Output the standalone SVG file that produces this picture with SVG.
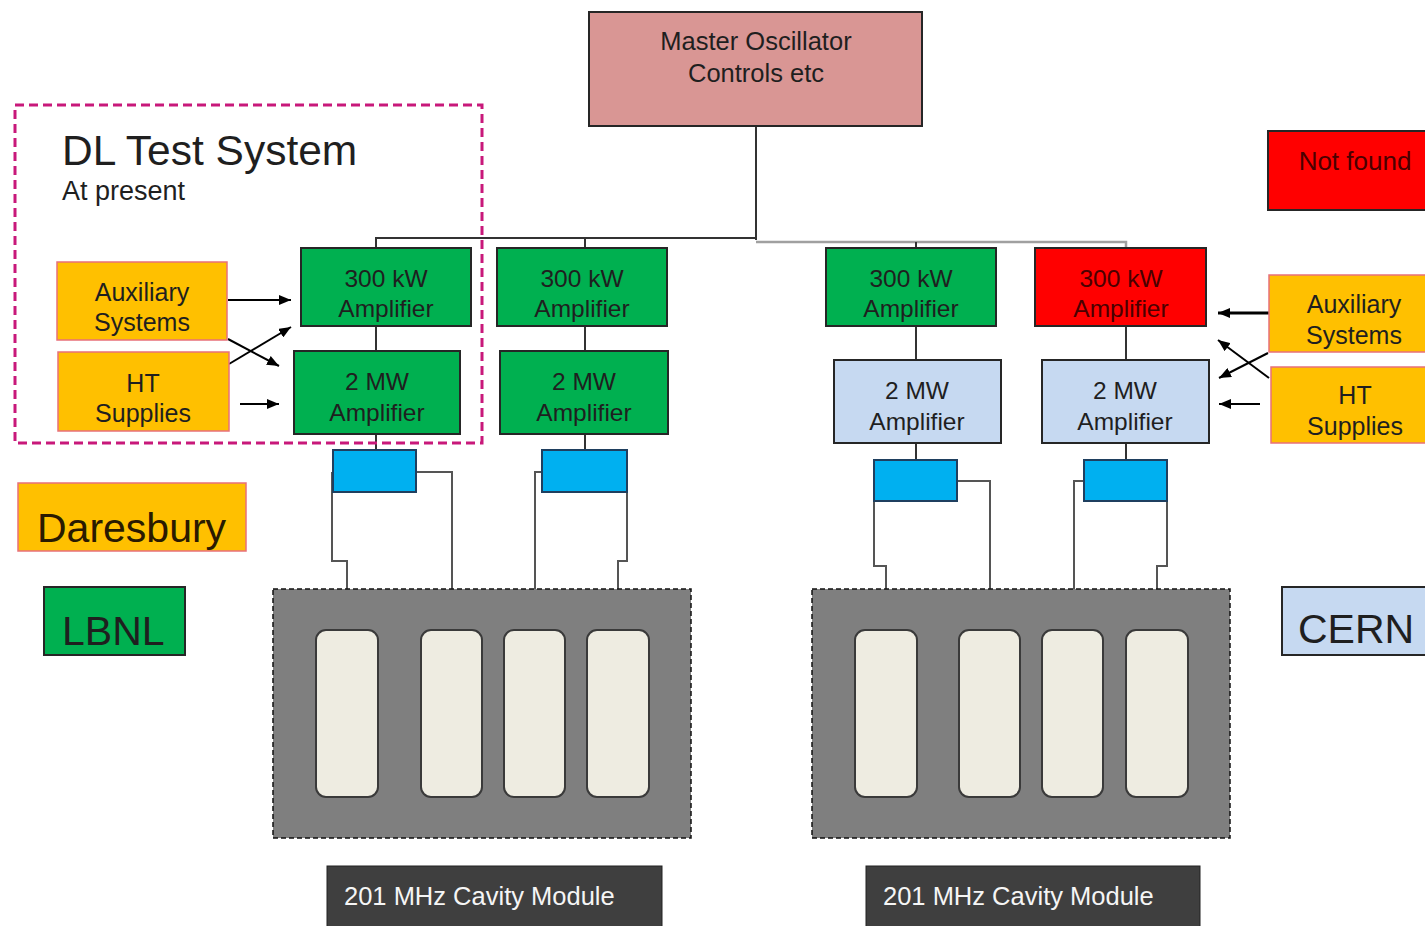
<svg xmlns="http://www.w3.org/2000/svg" width="1425" height="926" viewBox="0 0 1425 926">
<style>
text{font-family:"Liberation Sans",Arial,sans-serif;fill:#1f1f1f;text-anchor:middle}
.box{stroke:#262626;stroke-width:2}
.grn{fill:#00b050}
.red{fill:#ff0000}
.lb{fill:#c6d9f1}
.amb{fill:#ffc000;stroke:#e8707a;stroke-width:1.5}
.cy{fill:#00b0f0;stroke:#1f3f5f;stroke-width:2}
.t24{font-size:24.5px}
.t25{font-size:25px}
.wire{fill:none;stroke:#333;stroke-width:2}
.wire2{fill:none;stroke:#a0a0a0;stroke-width:2.5}
.cable{fill:none;stroke:#555;stroke-width:2}
.arr{stroke:#000;stroke-width:2;marker-end:url(#ah)}
.mod{fill:#7f7f7f;stroke:#111;stroke-width:1.5;stroke-dasharray:5 3}
.cav{fill:#eeece1;stroke:#3a3a3a;stroke-width:2}
.lab{fill:#3f3f3f;stroke:#222;stroke-width:1}
.labt{fill:#f5f5f5;font-size:25.5px;text-anchor:start}
</style>
<defs>
<marker id="ah" viewBox="0 0 12 10" refX="12" refY="5" markerWidth="12" markerHeight="10" markerUnits="userSpaceOnUse" orient="auto">
<path d="M0,0 L12,5 L0,10 z" fill="#000"/>
</marker>
</defs>
<rect width="1425" height="926" fill="#fff"/>

<g id="connectors">
<path class="wire" d="M756,126 V240"/>
<path class="wire" d="M376,248 V238 H756"/>
<path class="wire" d="M585,248 V238"/>
<path class="wire2" d="M756,242 H1126 V248"/>
<path class="wire" d="M916,248 V242"/>
<path class="wire" d="M376,326 V351 M376,434 V450"/>
<path class="wire" d="M585,326 V351 M585,434 V450"/>
<path class="wire" d="M916,326 V360 M916,443 V460"/>
<path class="wire" d="M1126,326 V360 M1126,443 V460"/>
<path class="cable" d="M332,472 V561 H347 V630"/>
<path class="cable" d="M416,472 H452 V630"/>
<path class="cable" d="M542,472 H535 V630"/>
<path class="cable" d="M627,490 V561 H618 V630"/>
<path class="cable" d="M874,480 V566 H886 V630"/>
<path class="cable" d="M957,481 H990 V630"/>
<path class="cable" d="M1084,481 H1074 V630"/>
<path class="cable" d="M1167,490 V566 H1157 V630"/>
<line class="arr" x1="228" y1="300" x2="291" y2="300"/>
<line class="arr" x1="228" y1="339" x2="279" y2="366"/>
<line class="arr" x1="229" y1="364" x2="291" y2="327"/>
<line class="arr" x1="240" y1="404" x2="279" y2="404"/>
<line class="arr" x1="1269" y1="313" x2="1218" y2="313" style="stroke-width:3"/>
<line class="arr" x1="1268" y1="353" x2="1219" y2="378"/>
<line class="arr" x1="1269" y1="378" x2="1218" y2="340"/>
<line class="arr" x1="1260" y1="404" x2="1219" y2="404"/>
</g>

<g id="dl-test-system">
<rect x="15" y="105" width="467" height="338" fill="none" stroke="#c8187a" stroke-width="3" stroke-dasharray="9 5"/>
<text x="62" y="165" style="font-size:42.5px;text-anchor:start">DL Test System</text>
<text x="62" y="200" style="font-size:27px;text-anchor:start">At present</text>
</g>

<g id="master-oscillator">
<rect class="box" x="589" y="12" width="333" height="114" fill="#d99694"/>
<text x="756" y="50" style="font-size:25.5px">Master Oscillator</text>
<text x="756" y="82" style="font-size:25.5px">Controls etc</text>
</g>

<g id="not-found">
<rect class="box" x="1268" y="131" width="160" height="79" fill="#ff0000"/>
<text x="1355" y="170" style="font-size:26px;fill:#4a0000">Not found</text>
</g>

<g id="aux-left">
<rect class="amb" x="57" y="262" width="170" height="78"/>
<text class="t25" x="142" y="301">Auxiliary</text>
<text class="t25" x="142" y="331">Systems</text>
</g>
<g id="ht-left">
<rect class="amb" x="58" y="352" width="171" height="79"/>
<text class="t25" x="143" y="392">HT</text>
<text class="t25" x="143" y="422">Supplies</text>
</g>

<g id="amp300-1">
<rect class="box grn" x="301" y="248" width="170" height="78"/>
<text class="t24" x="386" y="287">300 kW</text>
<text class="t24" x="386" y="317">Amplifier</text>
</g>
<g id="amp300-2">
<rect class="box grn" x="497" y="248" width="170" height="78"/>
<text class="t24" x="582" y="287">300 kW</text>
<text class="t24" x="582" y="317">Amplifier</text>
</g>
<g id="amp300-3">
<rect class="box grn" x="826" y="248" width="170" height="78"/>
<text class="t24" x="911" y="287">300 kW</text>
<text class="t24" x="911" y="317">Amplifier</text>
</g>
<g id="amp300-4">
<rect class="box red" x="1035" y="248" width="171" height="78"/>
<text class="t24" x="1121" y="287" style="fill:#4a0000">300 kW</text>
<text class="t24" x="1121" y="317" style="fill:#4a0000">Amplifier</text>
</g>

<g id="amp2mw-1">
<rect class="box grn" x="294" y="351" width="166" height="83"/>
<text class="t24" x="377" y="390">2 MW</text>
<text class="t24" x="377" y="421">Amplifier</text>
</g>
<g id="amp2mw-2">
<rect class="box grn" x="500" y="351" width="168" height="83"/>
<text class="t24" x="584" y="390">2 MW</text>
<text class="t24" x="584" y="421">Amplifier</text>
</g>
<g id="amp2mw-3">
<rect class="box lb" x="834" y="360" width="167" height="83"/>
<text class="t24" x="917" y="399">2 MW</text>
<text class="t24" x="917" y="430">Amplifier</text>
</g>
<g id="amp2mw-4">
<rect class="box lb" x="1042" y="360" width="167" height="83"/>
<text class="t24" x="1125" y="399">2 MW</text>
<text class="t24" x="1125" y="430">Amplifier</text>
</g>

<g id="aux-right">
<rect class="amb" x="1269" y="275" width="160" height="77"/>
<text class="t25" x="1354" y="313">Auxiliary</text>
<text class="t25" x="1354" y="344">Systems</text>
</g>
<g id="ht-right">
<rect class="amb" x="1271" y="367" width="158" height="76"/>
<text class="t25" x="1355" y="404">HT</text>
<text class="t25" x="1355" y="435">Supplies</text>
</g>

<g id="coupler-1"><rect class="cy" x="333" y="450" width="83" height="42"/></g>
<g id="coupler-2"><rect class="cy" x="542" y="450" width="85" height="42"/></g>
<g id="coupler-3"><rect class="cy" x="874" y="460" width="83" height="41"/></g>
<g id="coupler-4"><rect class="cy" x="1084" y="460" width="83" height="41"/></g>

<g id="cavity-module-1">
<rect class="mod" x="273" y="589" width="418" height="249"/>
<rect class="cav" x="316" y="630" width="62" height="167" rx="10"/>
<rect class="cav" x="421" y="630" width="61" height="167" rx="10"/>
<rect class="cav" x="504" y="630" width="61" height="167" rx="10"/>
<rect class="cav" x="587" y="630" width="62" height="167" rx="10"/>
<rect class="lab" x="327" y="866" width="335" height="62"/>
<text class="labt" x="344" y="905">201 MHz Cavity Module</text>
</g>

<g id="cavity-module-2">
<rect class="mod" x="812" y="589" width="418" height="249"/>
<rect class="cav" x="855" y="630" width="62" height="167" rx="10"/>
<rect class="cav" x="959" y="630" width="61" height="167" rx="10"/>
<rect class="cav" x="1042" y="630" width="61" height="167" rx="10"/>
<rect class="cav" x="1126" y="630" width="62" height="167" rx="10"/>
<rect class="lab" x="866" y="866" width="334" height="62"/>
<text class="labt" x="883" y="905">201 MHz Cavity Module</text>
</g>

<g id="legend-daresbury">
<rect class="amb" x="18" y="483" width="228" height="68"/>
<text x="37" y="542" style="font-size:41px;text-anchor:start;fill:#2a1a00">Daresbury</text>
</g>
<g id="legend-lbnl">
<rect class="box grn" x="44" y="587" width="141" height="68"/>
<text x="62" y="645" style="font-size:41px;text-anchor:start">LBNL</text>
</g>
<g id="legend-cern">
<rect class="box lb" x="1282" y="587" width="146" height="68"/>
<text x="1298" y="643" style="font-size:41px;text-anchor:start">CERN</text>
</g>
</svg>
